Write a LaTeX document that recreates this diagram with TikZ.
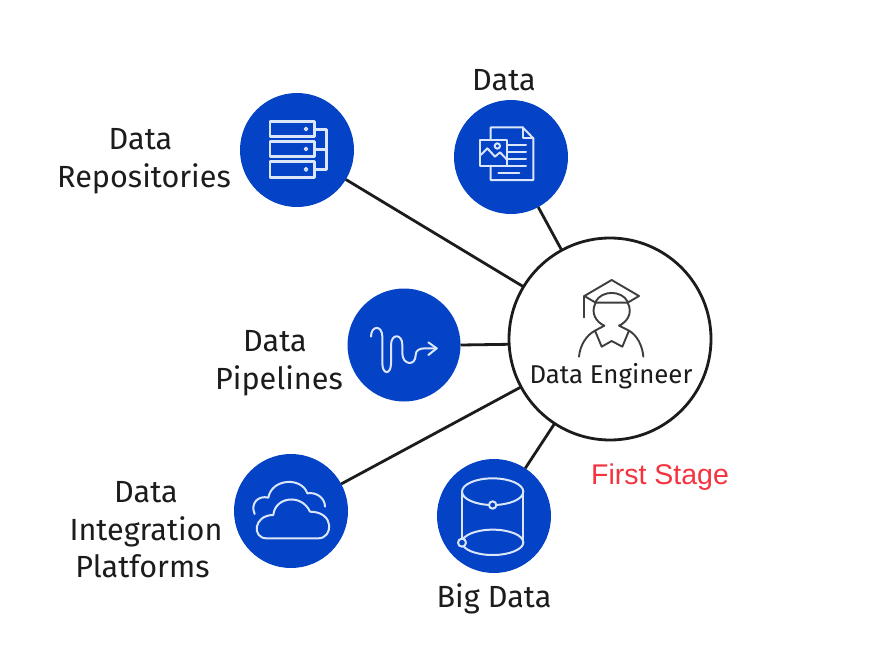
\documentclass[tikz,border=0pt]{standalone}
\usepackage{fontspec}
\setmainfont{Fira Sans}
\newfontfamily\redfont{Liberation Sans}
\definecolor{ibmblue}{HTML}{0443C6}
\definecolor{icon}{HTML}{DCE6FA}
\definecolor{ink}{HTML}{1C1C1C}
\definecolor{stagered}{HTML}{F5333F}
\tikzset{
  topic/.style={circle,fill=ibmblue,minimum size=#1,inner sep=0pt,outer sep=0pt},
  hub/.style={circle,draw=ink,line width=2.8pt,fill=white,minimum size=202pt,inner sep=0pt,outer sep=0pt},
  link/.style={draw=ink,line width=2.8pt},
  lab/.style={text=ink,align=center,font=\fontsize{30.6}{37.5}\selectfont,inner sep=0pt},
  ic/.style={draw=icon,line width=2pt,line join=round,line cap=round},
  face/.style={draw=ink!85,line width=1.9pt,line join=round,line cap=round}
}
\begin{document}
\begin{tikzpicture}[x=1pt,y=-1pt]
\useasboundingbox (0,0) rectangle (894,664);
\fill[white] (0,0) rectangle (894,664);
\node[topic=114pt] (repo) at (297,150) {};
\node[topic=114pt] (data) at (511,157) {};
\node[topic=113pt] (pipe) at (404,345) {};
\node[topic=114pt] (integ) at (291,511) {};
\node[topic=114pt] (big) at (494,516) {};
\node[hub] (eng) at (610,339) {};
\draw[link] (repo) -- (eng);
\draw[link] (data) -- (eng);
\draw[link] (pipe.east) -- (eng.183);
\draw[link] (integ) -- (eng);
\draw[link] (big) -- (eng);
% repositories icon
\begin{scope}[shift={(235,90)},scale=1/3,ic,line width=2.5pt]
\draw (105,95) rectangle (238,140);
\draw (105,155) rectangle (238,200);
\draw (105,215) rectangle (238,262);
\draw[line width=1.5pt] (213,117) circle (5);
\draw[line width=1.5pt] (213,177) circle (5);
\draw[line width=1.5pt] (213,238) circle (5);
\draw (238,118) -- (275,118) -- (275,238) -- (238,238);
\draw (238,178) -- (275,178);
\end{scope}
% data icon
\begin{scope}[shift={(450,95)},scale=1/3,ic]
\draw (122,135) -- (122,97) -- (218,97) -- (250,130) -- (250,255) -- (122,255) -- (122,212);
\draw (218,97) -- (218,130) -- (250,130);
\draw (90,135) rectangle (172,212);
\draw (92,180) -- (112,160) -- (135,185) -- (150,172) -- (172,195);
\draw (142,153) circle (8);
\draw (172,150) -- (228,150);
\draw (172,172) -- (228,172);
\draw (172,192) -- (228,192);
\draw (172,212) -- (228,212);
\draw (145,235) -- (208,235);
\end{scope}
% pipeline icon
\begin{scope}[shift={(345,285)},scale=1/3,ic]
\draw (78,155) .. controls (78,120) and (112,120) .. (112,155)
  -- (112,235) .. controls (112,270) and (138,270) .. (138,235)
  -- (138,180) .. controls (138,145) and (172,145) .. (172,180)
  -- (172,205) .. controls (172,240) and (212,245) .. (212,210)
  .. controls (212,195) and (225,190) .. (240,190) -- (275,190);
\draw (250,172) -- (275,190) -- (250,210);
\end{scope}
% cloud icon
\begin{scope}[shift={(230,450)},scale=1/3,ic]
\draw (74,192) .. controls (60,160) and (85,135) .. (115,143)
  .. controls (125,85) and (215,80) .. (232,130)
  .. controls (260,125) and (285,145) .. (285,170);
\draw (110,265) -- (265,265)
  .. controls (310,265) and (315,185) .. (240,185)
  .. controls (215,130) and (135,140) .. (130,195)
  .. controls (70,195) and (65,265) .. (110,265);
\end{scope}
% big data icon
\begin{scope}[shift={(432,455)},scale=1/3,ic]
\draw (182,110) ellipse [x radius=92,y radius=40];
\draw (182,262) ellipse [x radius=92,y radius=38];
\draw (90,110) -- (90,262);
\draw (274,110) -- (274,262);
\filldraw[fill=ibmblue] (182,150) circle (11);
\filldraw[fill=ibmblue] (90,263) circle (12);
\end{scope}
% engineer icon
\begin{scope}[shift={(505,235)},scale=1/3,face]
\draw (238,183) -- (320,135) -- (402,183) -- (368,203) -- (272,203) -- cycle;
\draw (238,183) -- (238,247);
\draw (272,200) .. controls (290,165) and (350,165) .. (368,200);
\draw (272,203) .. controls (255,235) and (275,262) .. (298,272) -- (270,287);
\draw (368,203) .. controls (385,235) and (365,262) .. (342,272) -- (372,287);
\draw (222,365) .. controls (225,330) and (245,300) .. (270,287) -- (290,335) -- (320,318) -- (352,335) -- (372,287)
  .. controls (395,300) and (412,330) .. (415,365);
\end{scope}
\node[lab] (l1) at (144,161) {Data\kern7pt\\Repositories};
\node[lab] (l2) at (504,80) {Data};
\node[lab] (l3) at (279,363) {Data\kern8pt\\Pipelines};
\node[lab] (l4) at (146,530) {Data\\Integration\\Platforms\kern7pt};
\node[lab] (l5) at (494,599) {Big Data};
\node[text=ink,font=\fontsize{25.8}{28}\selectfont,inner sep=0pt] (l6) at (611,376) {Data Engineer};
\node[text=stagered,font=\redfont\fontsize{28.5}{30}\selectfont,inner sep=0pt] (l7) at (660,477) {First Stage};
\end{tikzpicture}
\end{document}
